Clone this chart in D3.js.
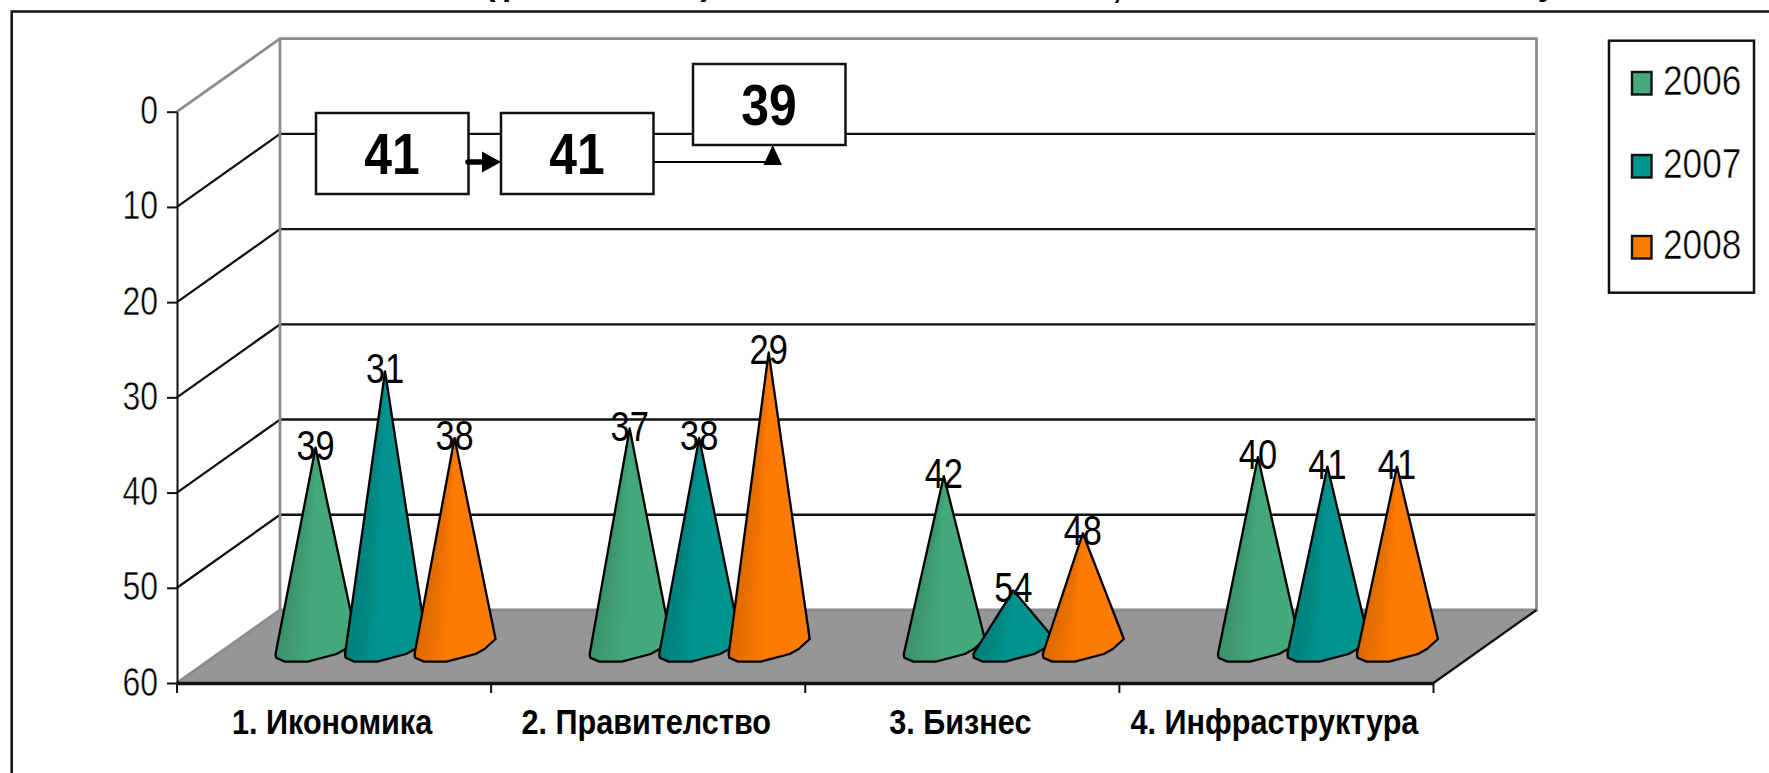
<!DOCTYPE html>
<html><head><meta charset="utf-8">
<script src="https://cdn.jsdelivr.net/npm/d3@7/dist/d3.min.js"></script>
<style>
html,body{margin:0;padding:0;background:#fff;overflow:hidden}
svg{display:block}
text{font-family:"Liberation Sans",Arial,sans-serif;fill:#000}
.thin{stroke:#fff;stroke-width:.55px}
</style></head><body>
<svg id="c" width="1769" height="773"></svg>
<script>
const categories = ["1. Икономика", "2. Правителство", "3. Бизнес", "4. Инфраструктура"];
const seriesNames = ["2006", "2007", "2008"];
const values2006 = [39, 37, 42, 40];
const values2007 = [31, 38, 54, 41];
const values2008 = [38, 29, 48, 41];
const yTicks = [0, 10, 20, 30, 40, 50, 60];
const boxValues = [41, 41, 39];
const titleFragments = ["(", "р", ")", ",", "у"];

const seriesValues = [values2006, values2007, values2008];
const colors = ["#44a97d", "#00948f", "#ff7b00"];

const svg = d3.select("#c");
const left = 177, right = 1433.5, top0 = 111.7, bottom = 683;
const depthX = 103, depthY = -73;

const x = d3.scaleBand().domain(categories).range([left, right]);
const offset = d3.scaleBand().domain(seriesNames).range([-104.25, 104.25]);
const y = d3.scaleLinear().domain([0, 60]).range([top0, bottom]);

// clipped title fragments along the top edge
const titleX = [490, 512, 706, 1117, 1547];
svg.selectAll("text.title").data(titleFragments).join("text").attr("class", "title")
  .attr("x", (d, i) => titleX[i]).attr("y", (d, i) => i === 3 ? -2 : -5)
  .attr("text-anchor", "middle").attr("font-weight", "bold").attr("font-size", 33).text(d => d);

// outer frame
svg.append("path").attr("d", "M11.7,773V11.5H1769").attr("fill", "none").attr("stroke", "#111").attr("stroke-width", 2.5);

// floor
svg.append("path").attr("d", `M${left},${bottom}L${right},${bottom}L${right + depthX},${bottom + depthY}L${left + depthX},${bottom + depthY}Z`)
  .attr("fill", "#969696");

// walls
const wall = svg.append("g").attr("fill", "none");
wall.selectAll("line.g").data(yTicks.slice(1, -1)).join("line").attr("class", "g")
  .attr("x1", left + depthX).attr("x2", right + depthX)
  .attr("y1", d => y(d) + depthY).attr("y2", d => y(d) + depthY)
  .attr("stroke", "#111").attr("stroke-width", 2.4);
wall.selectAll("line.s").data(yTicks.slice(1, -1)).join("line").attr("class", "s")
  .attr("x1", left).attr("x2", left + depthX)
  .attr("y1", d => y(d)).attr("y2", d => y(d) + depthY)
  .attr("stroke", "#111").attr("stroke-width", 2.3);
wall.append("path")
  .attr("d", `M${left},${y(0)}L${left + depthX},${y(0) + depthY}L${right + depthX},${y(0) + depthY}L${right + depthX},${y(60) + depthY}L${left + depthX},${y(60) + depthY}M${left + depthX},${y(0) + depthY}L${left + depthX},${y(60) + depthY}L${left},${y(60)}`)
  .attr("stroke", "#8c8c8c").attr("stroke-width", 2.8);
svg.append("line").attr("x1", right).attr("x2", right + depthX).attr("y1", bottom).attr("y2", bottom + depthY)
  .attr("stroke", "#111").attr("stroke-width", 2.3);

// axes
const squeeze = 0.78;
const yAxis = svg.append("g").attr("transform", `translate(${left},0)`)
  .call(d3.axisLeft(y).tickValues(yTicks).tickSize(10).tickSizeOuter(0).tickPadding(0));
yAxis.selectAll("path,line").attr("stroke", "#111").attr("stroke-width", 2);
yAxis.selectAll("text").attr("class", "thin").attr("font-size", 41).attr("font-family", null)
  .attr("text-anchor", "end").attr("dy", null)
  .attr("x", -19 / squeeze).attr("y", 12)
  .attr("transform", `scale(${squeeze},1)`);

const xAxis = svg.append("g").attr("transform", `translate(0,${bottom})`)
  .call(d3.axisBottom(x).tickSize(0).tickPadding(0));
xAxis.select("path").attr("stroke", "#111").attr("stroke-width", 3.5);
xAxis.selectAll("line").remove();
svg.append("g").selectAll("line").data(d3.range(categories.length + 1)).join("line")
  .attr("x1", i => left + i * x.bandwidth()).attr("x2", i => left + i * x.bandwidth())
  .attr("y1", bottom).attr("y2", bottom + 10).attr("stroke", "#111").attr("stroke-width", 2);
xAxis.selectAll("text").attr("font-size", 35).attr("font-weight", "bold").attr("font-family", null)
  .attr("x", 0).attr("y", 51).attr("dy", null).attr("transform", "translate(-2,0) scale(0.875,1)");

// cones
const baseAnchors = [-40, -39.5, -30.5, -8, 21, 30, 41];
const baseDrop = [15, 18.7, 22.6, 22.6, 15, 10, 0];
const baseCurve = d3.scaleLinear().domain(baseAnchors).range(baseDrop);
const facetCount = 26;
const facetPos = d3.range(facetCount + 1).map(i => -40 + 81 * i / facetCount);
const baseY = y(60) + depthY / 2 - 7.5;
const tipY = v => y(v) + depthY / 2 + 1;
const cones = svg.append("g");
const labels = [];
categories.forEach((c, ci) => {
  seriesNames.forEach((s, si) => {
    const v = seriesValues[si][ci];
    const cx = x(c) + x.bandwidth() / 2 + depthX / 2 + offset(s) + offset.bandwidth() / 2 - 0.5;
    const ty = tipY(v);
    const g = cones.append("g");
    const base = d3.color(colors[si]);
    const outline = d3.line()(baseAnchors.map((p, i) => [cx + p, baseY + baseDrop[i]]));
    const shape = `M${cx},${ty}L${outline.slice(1)}Z`;
    g.append("path").attr("d", shape).attr("fill", base.formatHex());
    facetPos.slice(0, -1).forEach((p, i) => {
      const q = facetPos[i + 1];
      const t = i / (facetCount - 1);
      const k = t < 0.45 ? 0.86 + 0.14 * (t / 0.45) : 1;
      g.append("path")
        .attr("d", `M${cx},${ty}L${cx + p},${baseY + baseCurve(p)}L${cx + q},${baseY + baseCurve(q)}Z`)
        .attr("fill", d3.rgb(base.r * k, base.g * k, base.b * k).formatHex());
    });
    g.append("path").attr("d", shape)
      .attr("fill", "none").attr("stroke", "#000").attr("stroke-width", 2.3).attr("stroke-linejoin", "round");
    labels.push({ v, cx, ty });
  });
});
svg.append("g").selectAll("text").data(labels).join("text")
  .attr("transform", d => `translate(${d.cx},${d.ty + 12}) scale(0.82,1)`)
  .attr("text-anchor", "middle").attr("font-size", 42).text(d => d.v);

// text boxes with arrows
const boxX = d3.scaleOrdinal().domain([0, 1, 2]).range([316, 501, 693]);
const boxY = d3.scaleOrdinal().domain([0, 1, 2]).range([113, 113, 64]);
const boxes = svg.append("g");
const arrows = svg.append("g");
arrows.append("path").attr("d", "M653,162H770").attr("stroke", "#000").attr("stroke-width", 2.2).attr("fill", "none");
boxValues.forEach((v, i) => {
  boxes.append("rect").attr("x", boxX(i)).attr("y", boxY(i)).attr("width", 152.5).attr("height", 81)
    .attr("fill", "#fff").attr("stroke", "#111").attr("stroke-width", 2.5);
  boxes.append("text").attr("transform", `translate(${boxX(i) + 76},${boxY(i) + 61}) scale(0.86,1)`)
    .attr("text-anchor", "middle").attr("font-weight", "bold").attr("font-size", 58).text(v);
});
arrows.raise();
arrows.append("path").attr("d", "M468,162H484").attr("stroke", "#000").attr("stroke-width", 5.5).attr("fill", "none").attr("stroke-linecap", "round");
arrows.append("path").attr("d", "M482,151.5L501,162L482,172.5Z").attr("fill", "#000");
arrows.append("path").attr("d", "M772.7,145L782,165H763.5Z").attr("fill", "#000");

// legend
const legend = svg.append("g");
legend.append("rect").attr("x", 1609).attr("y", 40.7).attr("width", 145).attr("height", 252)
  .attr("fill", "#fff").attr("stroke", "#111").attr("stroke-width", 2.5);
const legendY = d3.scaleOrdinal().domain(seriesNames).range([72, 155, 236]);
legend.selectAll("rect.k").data(seriesNames).join("rect").attr("class", "k")
  .attr("x", 1632).attr("y", d => legendY(d)).attr("width", 19.5).attr("height", 22.5)
  .attr("fill", (d, i) => colors[i]).attr("stroke", "#111").attr("stroke-width", 2.4);
legend.selectAll("text").data(seriesNames).join("text").attr("class", "thin")
  .attr("transform", d => `translate(1663,${legendY(d) + 23}) scale(0.82,1)`)
  .attr("font-size", 43).text(d => d);
</script>
</body></html>
